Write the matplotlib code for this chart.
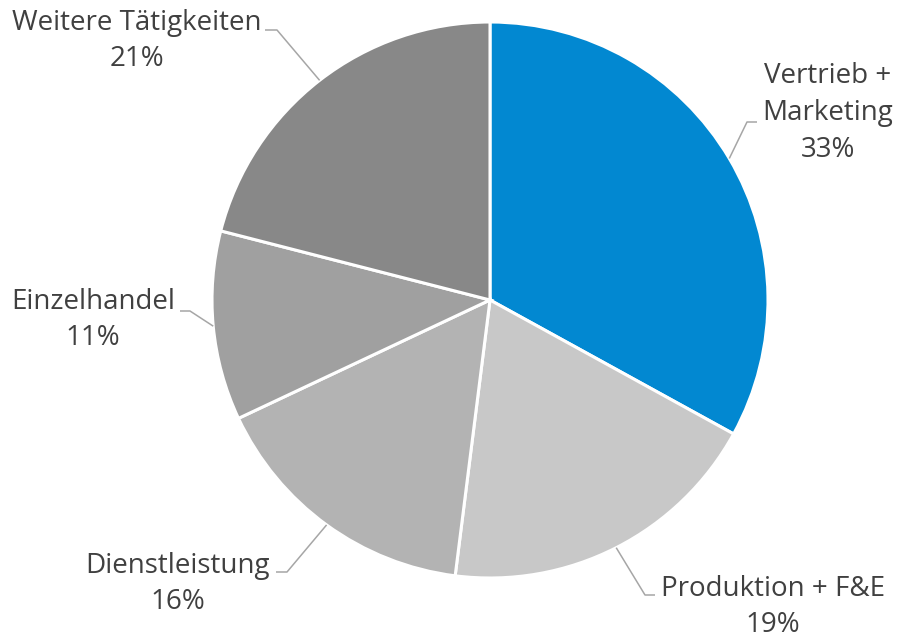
import numpy as np
import matplotlib
matplotlib.use("Agg")
import matplotlib.pyplot as plt

labels = ["Vertrieb +\nMarketing", "Produktion + F&E", "Dienstleistung", "Einzelhandel", "Weitere Tätigkeiten"]
shares = [33, 19, 16, 11, 21]
colors = ["#0288D1", "#C8C8C8", "#B3B3B3", "#A0A0A0", "#888888"]

# label text centre and leader elbow / end, in pixel coords (y down)
label_pos = [(828, 113), (773, 607), (178, 584), (93, 320), (137, 41)]
elbow_pos = [(747, 122), (645, 595), (287, 572), (190, 311), (277, 30)]
end_pos = [(757, 122), (655, 595), (276, 572), (180, 311), (265, 30)]

W, H = 900, 641
fig = plt.figure(figsize=(9, 6.41), dpi=100)
ax = fig.add_axes([0, 0, 1, 1])

cx, cy, r = 490, H - 300, 278
wedges, _ = ax.pie(shares, colors=colors, startangle=90, counterclock=False,
                   center=(cx, cy), radius=r, frame=True,
                   wedgeprops=dict(edgecolor="white", linewidth=2.2))
ax.set_xlim(0, W)
ax.set_ylim(0, H)
ax.axis("off")

for w, lab, val, lp, ep, en in zip(wedges, labels, shares, label_pos, elbow_pos, end_pos):
    mid = np.deg2rad((w.theta1 + w.theta2) / 2)
    sx, sy = cx + r * np.cos(mid), cy + r * np.sin(mid)
    ax.plot([sx, ep[0], en[0]], [sy, H - ep[1], H - en[1]],
            color="#A6A6A6", lw=1.1, solid_capstyle="butt")
    ax.text(lp[0], H - lp[1], f"{lab}\n{val}%", ha="center", va="center",
            fontsize=20, color="#404040", family="Open Sans", linespacing=1.42)

fig.savefig("out.png", dpi=100)
